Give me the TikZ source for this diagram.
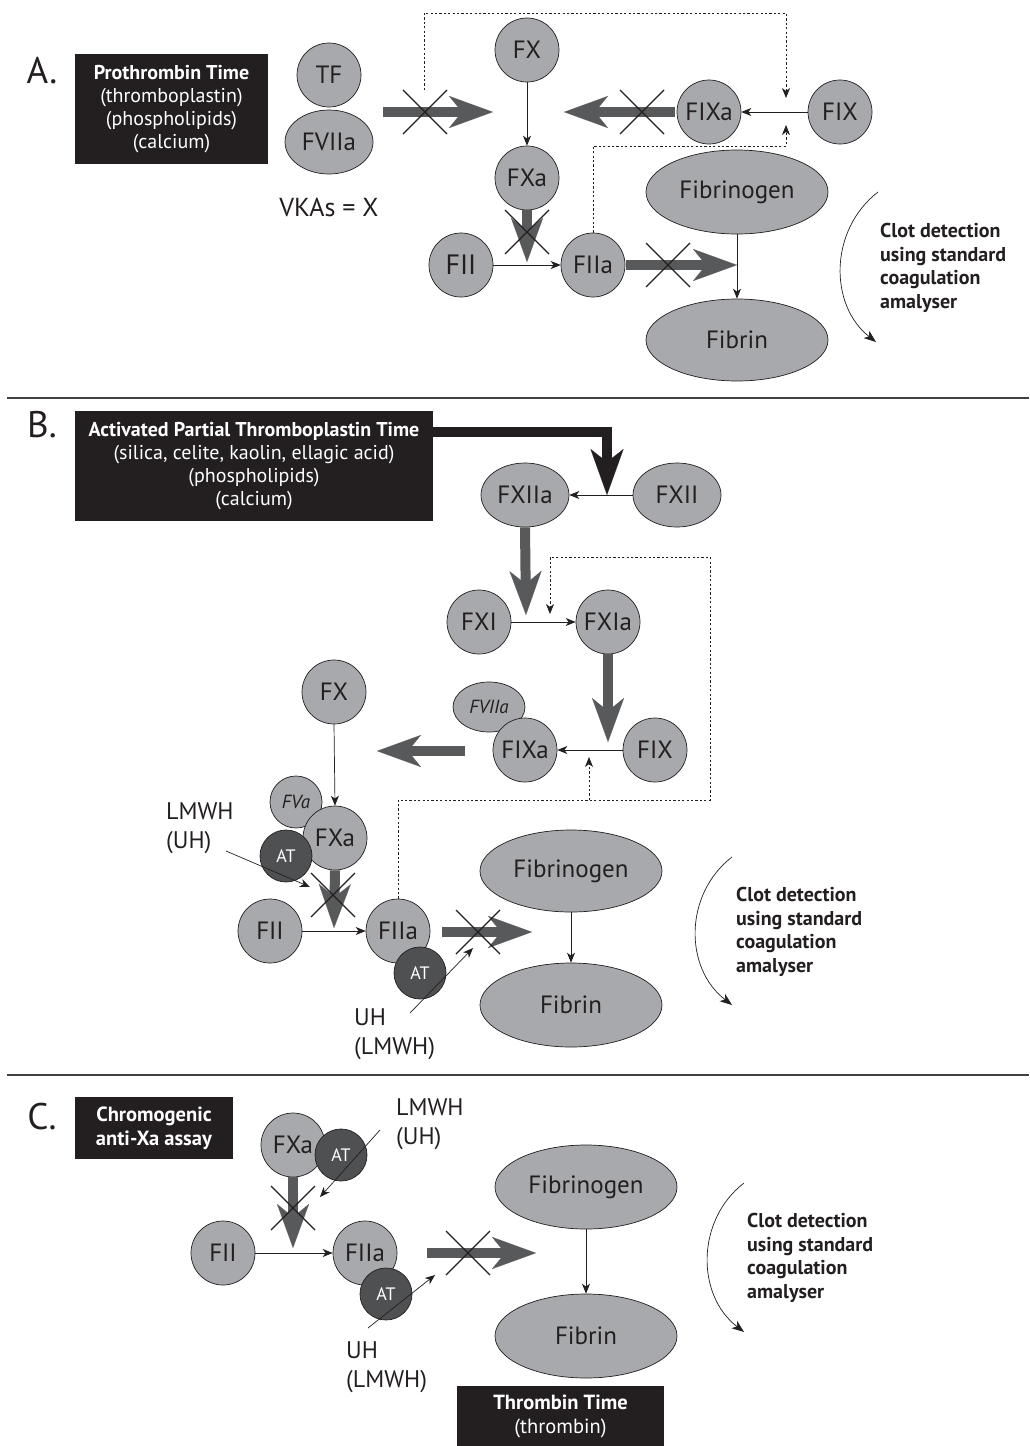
\documentclass[tikz,border=0pt]{standalone}
\usepackage{fontspec}
\setmainfont{PT Sans}
\usetikzlibrary{arrows.meta,shapes.geometric}
\definecolor{nodeg}{HTML}{A7A9AC}
\definecolor{linec}{HTML}{231F20}
\definecolor{arrg}{HTML}{58595B}
\definecolor{atg}{HTML}{4F5052}
\definecolor{boxc}{HTML}{231F20}
\definecolor{sepc}{HTML}{404041}
\newcommand\labf{\fontsize{25}{28}\selectfont}
\newcommand\labbig{\fontsize{28}{30}\selectfont}
\newcommand\bigf{\fontsize{37}{40}\selectfont}
\newcommand\boxf{\fontsize{20}{23}\selectfont}
\newcommand\boxfc{\fontsize{20.5}{24}\selectfont}
\newcommand\clotf{\fontsize{20}{23.5}\selectfont\bfseries}
\newcommand\drugf{\fontsize{24}{29}\selectfont}
\newcommand\vkaf{\fontsize{26}{30}\selectfont}
\newcommand\itf{\fontsize{19}{20}\selectfont\itshape}
\newcommand\atfnt{\fontsize{18}{20}\selectfont}
\begin{document}
\begin{tikzpicture}[x=1pt,y=-1pt,
 fac/.style={circle,draw=linec,fill=nodeg,line width=0.7pt,minimum size=64pt,inner sep=0pt,font=\labf,text=linec},
 fel/.style={ellipse,draw=linec,fill=nodeg,line width=0.7pt,inner sep=0pt,font=\labf,text=linec},
 smallf/.style={ellipse,draw=linec,fill=nodeg,line width=0.7pt,inner sep=0pt,font=\itf,text=linec},
 atn/.style={circle,draw=linec,fill=atg,line width=0.7pt,minimum size=52pt,inner sep=0pt,text=white,font=\atfnt},
 bbox/.style={fill=boxc,text=white,align=center,inner sep=0pt,font=\boxf},
 thinarr/.style={draw=linec,line width=0.7pt,-{Stealth[length=10pt,width=8pt,inset=3pt]}},
 dotarr/.style={draw=linec,line width=0.8pt,dash pattern=on 2.2pt off 2.2pt,-{Stealth[length=10pt,width=8pt,inset=3pt]}},
 bigarr/.style={draw=arrg,line width=10pt,-{Stealth[length=44pt,width=32pt,inset=13pt,line width=0.1pt]}},
 blackarr/.style={draw=boxc,line width=10pt,line join=miter,-{Stealth[length=46pt,width=33pt,inset=13pt,line width=0.1pt]}},
 curvarr/.style={draw=linec,line width=0.7pt,-{Stealth[length=12pt,width=9pt,inset=3pt]}},
 plain/.style={text=linec,inner sep=0pt},
 sepline/.style={draw=sepc,line width=1.5pt},
 xmark/.pic={\draw[linec,line width=1.3pt] (-22,-22)--(22,22) (-22,22)--(22,-22);}
]
\useasboundingbox (0,0) rectangle (1029,1446);
\fill[white] (0,0) rectangle (1029,1446);

% ================= A =================
\node[plain,font=\bigf] (labA) at (42,71) {A.};
\node[bbox,minimum width=193pt,minimum height=110pt] (ptbox) at (171.5,109)
  {\textbf{Prothrombin Time}\\(thromboplastin)\\(phospholipids)\\(calcium)};
\node[fac] (TF) at (329,75) {TF};
\node[fel,minimum width=88pt,minimum height=64pt] (FVIIaA) at (329,142) {FVIIa};
\node[plain,font=\vkaf] (vka) at (329,207) {VKAs = X};

\node[fac] (FXA) at (527,50) {FX};
\node[fac] (FXaA) at (527,178) {FXa};
\node[fac] (FIXaA) at (709,112) {FIXa};
\node[fac] (FIXA) at (840,112) {FIX};
\node[fel,minimum width=182pt,minimum height=84pt] (FbgA) at (737,192) {Fibrinogen};
\node[fel,minimum width=182pt,minimum height=82pt] (FbnA) at (737,340) {Fibrin};
\node[fac,font=\labbig] (FIIA) at (461,265) {FII};
\node[fac] (FIIaA) at (593,265) {FIIa};

\coordinate (jAt) at (786,98);
\coordinate (jAb) at (786,125);
\coordinate (dA0) at (424,90);
\draw[dotarr] (dA0) -- (424,13) -- (786,13) -- (jAt);
\draw[dotarr] (FIIaA.north) -- (593,146) -- (786,146) -- (jAb);

\draw[thinarr] (FXA.south) -- (FXaA.north);
\draw[thinarr] (FIXA.west) -- (FIXaA.east);
\draw[thinarr] (FIIA.east) -- (FIIaA.west);
\draw[thinarr] (FbgA.south) -- (FbnA.north);

\coordinate (a1s) at (383,112); \coordinate (a1e) at (493,112);
\draw[bigarr] (a1s) -- (a1e);
\pic at (425,112) {xmark};
\coordinate (a2s) at (675,112); \coordinate (a2e) at (564,112);
\draw[bigarr] (a2s) -- (a2e);
\pic at (642,112) {xmark};
\coordinate (a3e) at (527,262);
\draw[bigarr] (FXaA.south) -- (a3e);
\pic at (527,232) {xmark};
\coordinate (a4s) at (626,265); \coordinate (a4e) at (737,265);
\draw[bigarr] (a4s) -- (a4e);
\pic at (668,265) {xmark};

\coordinate (cAs) at (878,192); \coordinate (cAe) at (876,342);
\draw[curvarr] (cAs) .. controls (829,230) and (829,305) .. (cAe);
\node[plain,font=\clotf,align=left,anchor=west] (clotA) at (880,268)
  {Clot detection\\using standard\\coagulation\\amalyser};

\coordinate (sep1a) at (7,398); \coordinate (sep1b) at (1029,398);
\draw[sepline] (sep1a) -- (sep1b);

% ================= B =================
\node[plain,font=\bigf] (labB) at (42,425) {B.};
\node[bbox,minimum width=358pt,minimum height=110pt] (aptbox) at (254,466)
  {\textbf{Activated Partial Thromboplastin Time}\\(silica, celite, kaolin, ellagic acid)\\(phospholipids)\\(calcium)};
\node[fel,minimum width=88pt,minimum height=64pt] (FXIIa) at (525,495) {FXIIa};
\node[fel,minimum width=88pt,minimum height=64pt] (FXII) at (677,495) {FXII};
\node[fac] (FXI) at (479,622) {FXI};
\node[fac] (FXIa) at (608,622) {FXIa};
\node[smallf,minimum width=72pt,minimum height=50pt] (FVIIaB) at (489,707) {FVIIa};
\node[fac] (FIXaB) at (525,750) {FIXa};
\node[fac] (FIXB) at (655,750) {FIX};
\node[fac] (FXB) at (334,692) {FX};
\node[fac,minimum size=52pt,font=\itf] (FVaB) at (296,802) {FVa};
\node[fac] (FXaB) at (335,838) {FXa};
\node[atn] (ATB1) at (286,856) {AT};
\node[fac] (FIIB) at (270,931) {FII};
\node[fac] (FIIaB) at (398,931) {FIIa};
\node[atn] (ATB2) at (420,973) {AT};
\node[fel,minimum width=182pt,minimum height=82pt] (FbgB) at (571,871) {Fibrinogen};
\node[fel,minimum width=182pt,minimum height=84pt] (FbnB) at (571,1005) {Fibrin};

\coordinate (bks) at (433,432); \coordinate (bke) at (607,495);
\draw[blackarr] (bks) -| (bke);
\draw[thinarr] (FXII.west) -- (FXIIa.east);
\coordinate (b1e) at (526,615);
\draw[bigarr] (FXIIa.south) -- (b1e);
\draw[thinarr] (FXI.east) -- (FXIa.west);
\coordinate (b2e) at (608,742);
\draw[bigarr] (FXIa.south) -- (b2e);
\draw[thinarr] (FIXB.west) -- (FIXaB.east);

\coordinate (dBt) at (550,614);
\coordinate (dBu) at (589,757);
\draw[dotarr] (FIIaB.north) -- (398,800) -- (710,800) -- (710,557) -- (550,557) -- (dBt);
\draw[dotarr] (589,800) -- (dBu);

\coordinate (b3s) at (465,751); \coordinate (b3e) at (377,751);
\draw[bigarr] (b3s) -- (b3e);
\draw[thinarr] (FXB.south) -- (FXaB.north);

\node[plain,font=\drugf,align=left,anchor=west] (drugB1) at (166,828) {LMWH\\(UH)};
\coordinate (hB1s) at (226,851); \coordinate (hB1e) at (310,887);
\draw[thinarr] (hB1s) -- (hB1e);

\coordinate (b4e) at (334,928);
\draw[bigarr] (FXaB.south) -- (b4e);
\pic at (333,895) {xmark};
\draw[thinarr] (FIIB.east) -- (FIIaB.west);

\coordinate (hB2s) at (410,1013); \coordinate (hB2e) at (473,948);
\draw[thinarr] (hB2s) -- (hB2e);
\node[plain,font=\drugf,align=left,anchor=west] (drugB2) at (354,1034) {UH\\(LMWH)};

\coordinate (b5s) at (442,932); \coordinate (b5e) at (532,932);
\draw[bigarr] (b5s) -- (b5e);
\pic at (478,932) {xmark};
\draw[thinarr] (FbgB.south) -- (FbnB.north);

\coordinate (cBs) at (732,857); \coordinate (cBe) at (732,1005);
\draw[curvarr] (cBs) .. controls (684,894) and (684,968) .. (cBe);
\node[plain,font=\clotf,align=left,anchor=west] (clotB) at (736,932)
  {Clot detection\\using standard\\coagulation\\amalyser};

\coordinate (sep2a) at (7,1075); \coordinate (sep2b) at (1029,1075);
\draw[sepline] (sep2a) -- (sep2b);

% ================= C =================
\node[plain,font=\bigf] (labC) at (42,1117) {C.};
\node[bbox,font=\boxfc,minimum width=158pt,minimum height=62pt] (chbox) at (154,1128)
  {\textbf{Chromogenic}\\\textbf{anti-Xa assay}};
\node[fac] (FXaC) at (293,1145) {FXa};
\node[atn] (ATC1) at (341,1155) {AT};
\node[plain,font=\drugf,align=left,anchor=west] (drugC1) at (396,1124) {LMWH\\(UH)};
\node[fac] (FIIC) at (223,1253) {FII};
\node[fac] (FIIaC) at (365,1253) {FIIa};
\node[atn] (ATC2) at (386,1294) {AT};
\node[plain,font=\drugf,align=left,anchor=west] (drugC2) at (346,1367) {UH\\(LMWH)};
\node[fel,minimum width=182pt,minimum height=84pt] (FbgC) at (586,1187) {Fibrinogen};
\node[fel,minimum width=182pt,minimum height=84pt] (FbnC) at (586,1336) {Fibrin};
\node[bbox,font=\boxfc,minimum width=207pt,minimum height=60pt] (ttbox) at (560.5,1416)
  {\textbf{Thrombin Time}\\(thrombin)};

\coordinate (hC1s) at (380,1130); \coordinate (hC1e) at (320,1197);
\draw[thinarr] (hC1s) -- (hC1e);
\coordinate (c1e) at (293,1248);
\draw[bigarr] (FXaC.south) -- (c1e);
\pic at (293,1208) {xmark};
\draw[thinarr] (FIIC.east) -- (FIIaC.west);
\coordinate (hC2s) at (368,1328); \coordinate (hC2e) at (435,1275);
\draw[thinarr] (hC2s) -- (hC2e);
\coordinate (c2s) at (427,1253); \coordinate (c2e) at (536,1253);
\draw[bigarr] (c2s) -- (c2e);
\pic at (468,1253) {xmark};
\draw[thinarr] (FbgC.south) -- (FbnC.north);

\coordinate (cCs) at (744,1183); \coordinate (cCe) at (744,1332);
\draw[curvarr] (cCs) .. controls (696,1220) and (696,1295) .. (cCe);
\node[plain,font=\clotf,align=left,anchor=west] (clotC) at (747,1258)
  {Clot detection\\using standard\\coagulation\\amalyser};
\end{tikzpicture}
\end{document}
